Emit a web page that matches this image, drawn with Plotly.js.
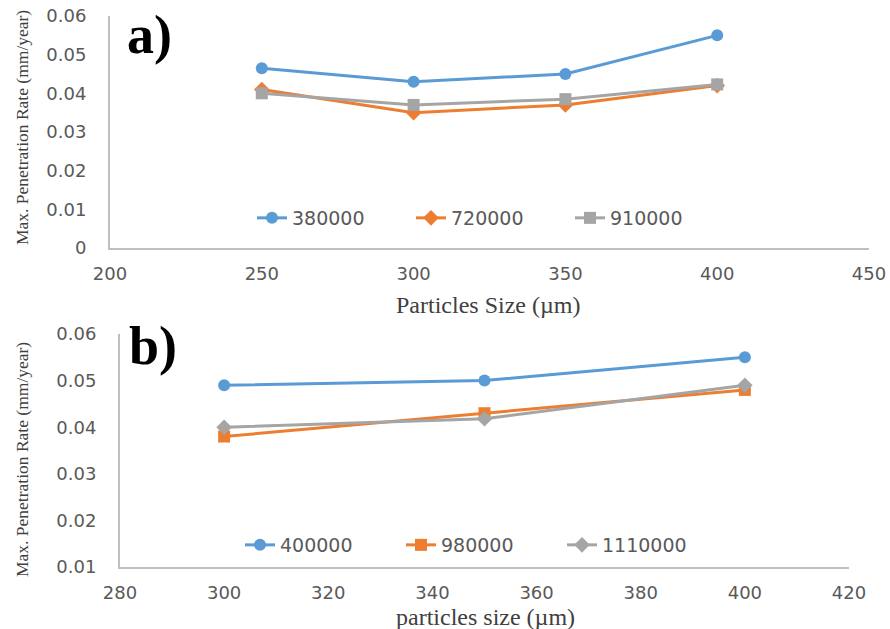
<!DOCTYPE html>
<html>
<head>
<meta charset="utf-8">
<script src="https://cdn.plot.ly/plotly-3.0.1.min.js"></script>
<style>html,body{margin:0;padding:0;background:#fff}#chart{width:890px;height:629px}</style>
</head>
<body>
<div id="chart"></div>
<script>
// Panel a data
const sizesA = [250, 300, 350, 400];
const a380000 = [0.0465, 0.043, 0.045, 0.055];
const a720000 = [0.041, 0.035, 0.037, 0.042];
const a910000 = [0.040, 0.037, 0.0385, 0.0423];
const namesA = ['380000', '720000', '910000'];

// Panel b data
const sizesB = [300, 350, 400];
const b400000 = [0.049, 0.050, 0.055];
const b980000 = [0.038, 0.043, 0.048];
const b1110000 = [0.040, 0.0418, 0.049];
const namesB = ['400000', '980000', '1110000'];

const BLUE = '#5B9BD5', ORANGE = '#ED7D31', GREY = '#A5A5A5';

function tr(x, y, name, color, symbol, msize, xa, ya, leg) {
  return {x: x, y: y, name: name, type: 'scatter', mode: 'lines+markers',
    line: {color: color, width: 3},
    marker: {color: color, symbol: symbol, size: msize},
    xaxis: xa, yaxis: ya, legend: leg};
}

const data = [
  tr(sizesA, a380000, namesA[0], BLUE, 'circle', 12, 'x', 'y', 'legend'),
  tr(sizesA, a720000, namesA[1], ORANGE, 'diamond', 12, 'x', 'y', 'legend'),
  tr(sizesA, a910000, namesA[2], GREY, 'square', 12, 'x', 'y', 'legend'),
  tr(sizesB, b400000, namesB[0], BLUE, 'circle', 12, 'x2', 'y2', 'legend2'),
  tr(sizesB, b980000, namesB[1], ORANGE, 'square', 12, 'x2', 'y2', 'legend2'),
  tr(sizesB, b1110000, namesB[2], GREY, 'diamond', 12, 'x2', 'y2', 'legend2')
];

const tickFont = {family: 'DejaVu Sans', size: 18, color: '#595959'};
const titleFont = {family: 'Liberation Serif', size: 24, color: '#404040'};
const legFont = {family: 'DejaVu Sans', size: 19, color: '#595959'};

function axX(domain, range, dtick, anchor) {
  return {domain: domain, range: range, dtick: dtick, tick0: range[0], anchor: anchor,
    showline: true, linecolor: '#BFBFBF', linewidth: 2, showgrid: false, zeroline: false,
    ticks: '', tickfont: tickFont, ticklabelstandoff: 8, fixedrange: true};
}
function axY(domain, range, dtick, anchor) {
  return {domain: domain, range: range, dtick: dtick, tick0: range[0], anchor: anchor,
    showline: true, linecolor: '#BFBFBF', linewidth: 2, showgrid: false, zeroline: false,
    ticks: '', tickfont: tickFont, ticklabelstandoff: 18, fixedrange: true};
}

const layout = {
  width: 890, height: 629,
  margin: {l: 0, r: 0, t: 0, b: 0},
  paper_bgcolor: '#fff', plot_bgcolor: '#fff',
  xaxis: axX([110/890, 869/890], [200, 450], 50, 'y'),
  yaxis: axY([1-248/629, 1-16/629], [0, 0.06], 0.01, 'x'),
  xaxis2: axX([120/890, 849/890], [280, 420], 20, 'y2'),
  yaxis2: axY([1-567/629, 1-334/629], [0.01, 0.06], 0.01, 'x2'),
  legend: {orientation: 'h', x: 252/890, xanchor: 'left', y: 1-218/629, yanchor: 'middle',
    entrywidth: 114, entrywidthmode: 'pixels',
    bgcolor: 'rgba(0,0,0,0)', font: legFont},
  legend2: {orientation: 'h', x: 240/890, xanchor: 'left', y: 1-545/629, yanchor: 'middle',
    entrywidth: 116, entrywidthmode: 'pixels',
    bgcolor: 'rgba(0,0,0,0)', font: legFont},
  annotations: [
    {text: 'a)', xref: 'paper', yref: 'paper', x: 125/890, y: 1-35/629, xanchor: 'left', yanchor: 'middle',
      showarrow: false, font: {family: 'Liberation Serif', size: 54, color: '#000', weight: 'bold'}},
    {text: 'b)', xref: 'paper', yref: 'paper', x: 127/890, y: 1-346/629, xanchor: 'left', yanchor: 'middle',
      showarrow: false, font: {family: 'Liberation Serif', size: 54, color: '#000', weight: 'bold'}},
    {text: 'Max. Penetration Rate (mm/year)', xref: 'paper', yref: 'paper', x: 22/890, y: 1-128/629,
      xanchor: 'center', yanchor: 'middle', textangle: -90, showarrow: false,
      font: {family: 'Liberation Serif', size: 17.5, color: '#404040'}},
    {text: 'Max. Penetration Rate (mm/year)', xref: 'paper', yref: 'paper', x: 22/890, y: 1-460/629,
      xanchor: 'center', yanchor: 'middle', textangle: -90, showarrow: false,
      font: {family: 'Liberation Serif', size: 17.5, color: '#404040'}},
    {text: 'Particles Size (\u00b5m)', xref: 'paper', yref: 'paper', x: 488/890, y: 1-305/629,
      xanchor: 'center', yanchor: 'middle', showarrow: false, font: titleFont},
    {text: 'particles size (\u00b5m)', xref: 'paper', yref: 'paper', x: 485/890, y: 1-617/629,
      xanchor: 'center', yanchor: 'middle', showarrow: false, font: titleFont}
  ]
};

Plotly.newPlot('chart', data, layout, {displayModeBar: false, staticPlot: true});
</script>
</body>
</html>
